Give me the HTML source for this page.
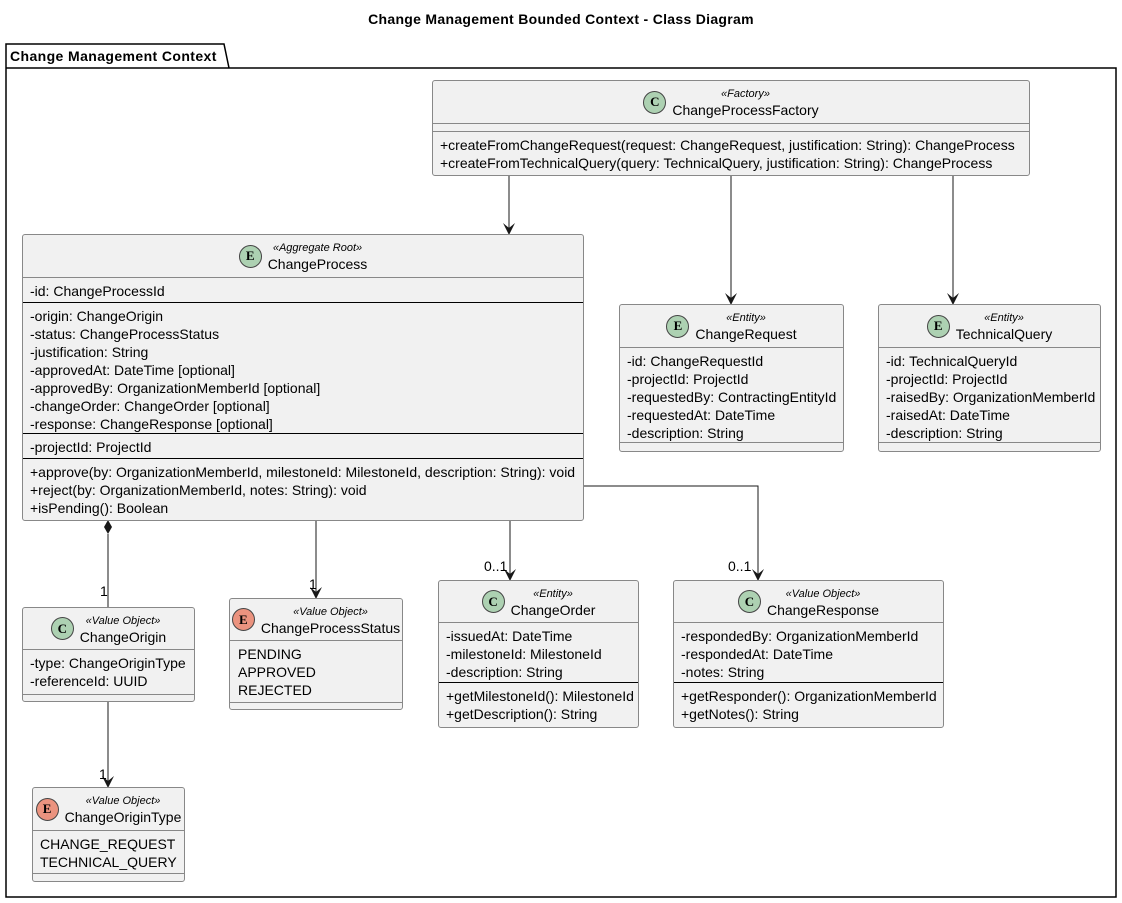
<!DOCTYPE html>
<html><head><meta charset="utf-8"><style>
body{margin:0;width:1122px;height:903px;background:#fff;font-family:"Liberation Sans",sans-serif;position:relative;overflow:hidden}
.t{position:absolute;left:0;width:1122px;top:11px;text-align:center;font-weight:bold;font-size:14px;letter-spacing:0.3px}
.b{position:absolute;background:#f1f1f1;border:1px solid #888;border-radius:3px;box-sizing:border-box;font-size:14px;letter-spacing:0;color:#000}
.h{display:flex;align-items:center;justify-content:center;border-bottom:1px solid #888;box-sizing:border-box}
.ic{width:21px;height:21px;border-radius:50%;border:1px solid #444;display:flex;align-items:center;justify-content:center;font-family:"Liberation Serif",serif;font-weight:bold;font-size:13px;margin-right:6px;flex:none;letter-spacing:0}
.g{background:#add1b2}.r{background:#eb937f}
.nm{text-align:center;line-height:16px}
.st{font-style:italic;font-size:11px;letter-spacing:0}
.s{box-sizing:border-box;padding:4px 0 0 7px;line-height:18px;white-space:nowrap}
.k{border-top:1px solid #000}
.q{border-top:1px solid #888}
svg{position:absolute;left:0;top:0}
</style></head><body>
<div class="t">Change Management Bounded Context - Class Diagram</div>
<svg width="1122" height="903">
<path d="M6,68 L6,44 L224,44 L229,68 Z M6,68 L1116,68 L1116,897 L6,897 Z" fill="#fff" stroke="#000" stroke-width="1.5"/>
<text x="10" y="61" font-family="Liberation Sans" font-weight="bold" font-size="14" letter-spacing="0.4">Change Management Context</text>
<g stroke="#181818" fill="none" stroke-width="1">
<path d="M509,175 V233"/><path d="M731,175 V303"/><path d="M953,175 V303"/>
<path d="M316,520 V597"/><path d="M510,520 V579"/><path d="M583,486 H758 V579"/>
<path d="M108,534 V607"/><path d="M108,701 V786"/>
</g>
<g fill="#181818">
<path d="M509,235 l-6,-12 l6,5 l6,-5 z"/><path d="M731,305 l-6,-12 l6,5 l6,-5 z"/><path d="M953,305 l-6,-12 l6,5 l6,-5 z"/>
<path d="M316,599 l-6,-12 l6,5 l6,-5 z"/><path d="M510,581 l-6,-12 l6,5 l6,-5 z"/><path d="M758,581 l-6,-12 l6,5 l6,-5 z"/>
<path d="M108,788 l-6,-12 l6,5 l6,-5 z"/>
<path d="M108,520 l-4,7 l4,7 l4,-7 z"/>
</g>
<g font-family="Liberation Sans" font-size="14">
<text x="100" y="596">1</text><text x="309" y="589">1</text>
<text x="484" y="571">0..1</text><text x="728" y="571">0..1</text>
<text x="99" y="779">1</text>
</g>
</svg>

<div class="b" style="left:432px;top:80px;width:598px;height:96px">
<div class="h" style="height:43px"><div class="ic g">C</div><div class="nm"><div class="st">«Factory»</div>ChangeProcessFactory</div></div>
<div class="s" style="height:7px;padding:0"></div>
<div class="s q">+createFromChangeRequest(request: ChangeRequest, justification: String): ChangeProcess<br>+createFromTechnicalQuery(query: TechnicalQuery, justification: String): ChangeProcess</div>
</div>

<div class="b" style="left:22px;top:234px;width:562px;height:287px">
<div class="h" style="height:43px"><div class="ic g">E</div><div class="nm"><div class="st">«Aggregate Root»</div>ChangeProcess</div></div>
<div class="s" style="height:24px">-id: ChangeProcessId</div>
<div class="s k" style="height:131px">-origin: ChangeOrigin<br>-status: ChangeProcessStatus<br>-justification: String<br>-approvedAt: DateTime [optional]<br>-approvedBy: OrganizationMemberId [optional]<br>-changeOrder: ChangeOrder [optional]<br>-response: ChangeResponse [optional]</div>
<div class="s k" style="height:25px">-projectId: ProjectId</div>
<div class="s k">+approve(by: OrganizationMemberId, milestoneId: MilestoneId, description: String): void<br>+reject(by: OrganizationMemberId, notes: String): void<br>+isPending(): Boolean</div>
</div>

<div class="b" style="left:619px;top:304px;width:225px;height:148px">
<div class="h" style="height:43px"><div class="ic g">E</div><div class="nm"><div class="st">«Entity»</div>ChangeRequest</div></div>
<div class="s" style="height:94px">-id: ChangeRequestId<br>-projectId: ProjectId<br>-requestedBy: ContractingEntityId<br>-requestedAt: DateTime<br>-description: String</div>
<div class="q"></div>
</div>

<div class="b" style="left:878px;top:304px;width:223px;height:148px">
<div class="h" style="height:43px"><div class="ic g">E</div><div class="nm"><div class="st">«Entity»</div>TechnicalQuery</div></div>
<div class="s" style="height:94px">-id: TechnicalQueryId<br>-projectId: ProjectId<br>-raisedBy: OrganizationMemberId<br>-raisedAt: DateTime<br>-description: String</div>
<div class="q"></div>
</div>

<div class="b" style="left:22px;top:607px;width:173px;height:95px">
<div class="h" style="height:42px"><div class="ic g">C</div><div class="nm"><div class="st">«Value Object»</div>ChangeOrigin</div></div>
<div class="s" style="height:44px">-type: ChangeOriginType<br>-referenceId: UUID</div>
<div class="q"></div>
</div>

<div class="b" style="left:229px;top:598px;width:174px;height:112px">
<div class="h" style="height:42px"><div class="ic r">E</div><div class="nm"><div class="st">«Value Object»</div>ChangeProcessStatus</div></div>
<div class="s" style="height:61px;padding-left:8px">PENDING<br>APPROVED<br>REJECTED</div>
<div class="q"></div>
</div>

<div class="b" style="left:438px;top:580px;width:201px;height:148px">
<div class="h" style="height:42px"><div class="ic g">C</div><div class="nm"><div class="st">«Entity»</div>ChangeOrder</div></div>
<div class="s" style="height:59px">-issuedAt: DateTime<br>-milestoneId: MilestoneId<br>-description: String</div>
<div class="s k">+getMilestoneId(): MilestoneId<br>+getDescription(): String</div>
</div>

<div class="b" style="left:673px;top:580px;width:271px;height:148px">
<div class="h" style="height:42px"><div class="ic g">C</div><div class="nm"><div class="st">«Value Object»</div>ChangeResponse</div></div>
<div class="s" style="height:59px">-respondedBy: OrganizationMemberId<br>-respondedAt: DateTime<br>-notes: String</div>
<div class="s k">+getResponder(): OrganizationMemberId<br>+getNotes(): String</div>
</div>

<div class="b" style="left:32px;top:787px;width:153px;height:95px">
<div class="h" style="height:43px"><div class="ic r">E</div><div class="nm"><div class="st">«Value Object»</div>ChangeOriginType</div></div>
<div class="s" style="height:42px">CHANGE_REQUEST<br>TECHNICAL_QUERY</div>
<div class="q"></div>
</div>
</body></html>
